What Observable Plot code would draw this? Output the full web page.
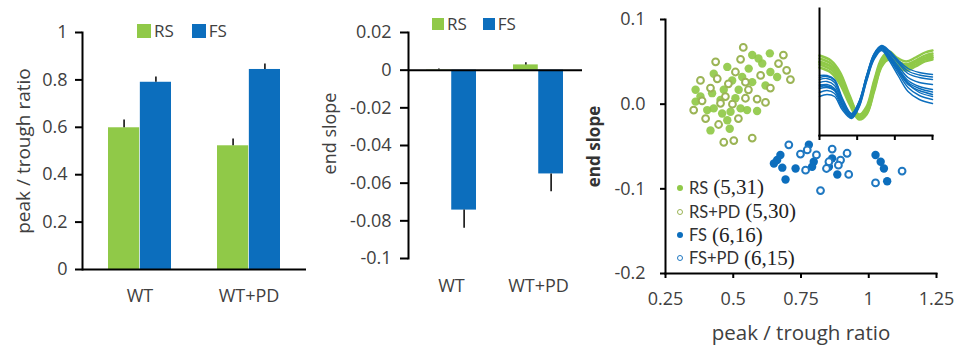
<!DOCTYPE html>
<html>
<head>
<meta charset="utf-8">
<script src="https://cdn.jsdelivr.net/npm/d3@7"></script>
<script src="https://cdn.jsdelivr.net/npm/@observablehq/plot@0.6"></script>
<style>
  body { margin: 0; background: #fff; }
  #chart { position: relative; width: 959px; height: 352px; overflow: hidden; font-family: "Open Sans", Lato, sans-serif; color: #404040; }
  #chart > svg { position: absolute; top: 0; }
  .legend { position: absolute; display: flex; align-items: center; font-size: 17px; line-height: 1; white-space: nowrap; }
  .sw { display: inline-block; margin-right: 3px; }
  .key { position: absolute; left: 677px; height: 22px; display: flex; align-items: center; white-space: nowrap; }
  .mk { display: inline-block; box-sizing: border-box; width: 6px; height: 6px; border-radius: 50%; margin-right: 6px; }
  .sans { font-family: Lato, sans-serif; font-size: 16.5px; color: #333; }
  .serif { font-family: "Liberation Serif", "DejaVu Serif", serif; font-size: 21px; color: #222; margin-left: 5px; }
</style>
</head>
<body>
<div id="chart"></div>
<script>
// Genotype groups and cell classes
const groups = ["WT", "WT+PD"];
const classes = ["RS", "FS"];

// Mean ± SEM of the peak / trough ratio
const meanRatioRS = [0.598, 0.522];
const semRatioRS = [0.033, 0.029];
const meanRatioFS = [0.79, 0.844];
const semRatioFS = [0.022, 0.023];

// Mean ± SEM of the end slope
const meanSlopeRS = [0.0002, 0.0028];
const semSlopeRS = [0.0004, 0.0012];
const meanSlopeFS = [-0.0743, -0.0551];
const semSlopeFS = [0.0096, 0.0094];

// Axis ticks
const ratioTicks = [0, 0.2, 0.4, 0.6, 0.8, 1];
const slopeTicks = [-0.1, -0.08, -0.06, -0.04, -0.02, 0, 0.02];
const scatterXTicks = [0.25, 0.5, 0.75, 1, 1.25];
const scatterYTicks = [-0.2, -0.1, 0, 0.1];
const waveTicks = [0, 1, 2, 3];

// Single cells: peak / trough ratio and end slope
const rsRatio = [0.570, 0.635, 0.607, 0.557, 0.637, 0.478, 0.428, 0.496, 0.533, 0.570, 0.361, 0.465, 0.520, 0.422, 0.662, 0.361, 0.404, 0.428, 0.459, 0.490, 0.551, 0.588, 0.478, 0.416, 0.487, 0.527, 0.593, 0.508, 0.453, 0.619, 0.379];
const rsSlope = [0.058, 0.060, 0.048, 0.042, 0.038, 0.044, 0.036, 0.028, 0.032, 0.026, 0.017, 0.017, 0.017, 0.013, 0.032, 0.003, -0.007, -0.005, -0.011, -0.009, -0.007, -0.008, -0.019, -0.031, -0.029, -0.005, 0.054, 0.007, 0.005, 0.022, 0.009];
const rsPdRatio = [0.537, 0.527, 0.697, 0.711, 0.441, 0.385, 0.354, 0.453, 0.545, 0.588, 0.465, 0.502, 0.570, 0.482, 0.508, 0.416, 0.471, 0.556, 0.601, 0.667, 0.398, 0.519, 0.435, 0.637, 0.497, 0.379, 0.545, 0.619, 0.446, 0.685];
const rsPdSlope = [0.067, 0.053, 0.040, 0.029, 0.030, 0.004, -0.007, 0.001, 0.007, 0.006, -0.045, -0.043, -0.040, 0.024, 0.038, 0.019, 0.009, 0.017, 0.034, 0.048, -0.017, -0.017, 0.050, 0.019, 0.000, 0.028, 0.026, 0.002, -0.024, 0.058];
const fsRatio = [0.779, 0.662, 0.650, 0.681, 0.730, 0.693, 0.797, 0.791, 0.865, 0.853, 0.884, 0.674, 1.025, 1.044, 1.056, 1.068];
const fsSlope = [-0.048, -0.066, -0.070, -0.075, -0.076, -0.089, -0.068, -0.074, -0.064, -0.074, -0.083, -0.060, -0.060, -0.068, -0.076, -0.091];
const fsPdRatio = [0.705, 0.773, 0.865, 0.896, 0.853, 0.767, 0.822, 0.926, 0.920, 1.123, 1.025, 0.748, 0.844, 0.807, 0.888];
const fsPdSlope = [-0.048, -0.054, -0.053, -0.066, -0.068, -0.078, -0.102, -0.083, -0.058, -0.079, -0.093, -0.059, -0.076, -0.060, -0.072];

// Legend entries of the scatter: class name and (animals, cells)
const keyNames = ["RS", "RS+PD", "FS", "FS+PD"];
const keyCounts = ["(5,31)", "(5,30)", "(6,16)", "(6,15)"];

// Spike waveforms (ms, normalized amplitude)
const rsTime = [0, 0.3, 0.55, 0.8, 1.05, 1.25, 1.45, 1.65, 1.85, 2.05, 2.3, 2.55, 2.8, 3.0];
const rsWaves = [
  [0.30, 0.20, -0.04, -0.50, -0.88, -0.72, -0.20, 0.24, 0.38, 0.26, 0.18, 0.26, 0.36, 0.40],
  [0.24, 0.14, -0.10, -0.56, -0.92, -0.76, -0.24, 0.20, 0.34, 0.20, 0.12, 0.20, 0.30, 0.34],
  [0.18, 0.08, -0.16, -0.60, -0.94, -0.80, -0.30, 0.16, 0.30, 0.16, 0.08, 0.16, 0.26, 0.30],
  [0.12, 0.02, -0.22, -0.64, -0.96, -0.84, -0.36, 0.12, 0.26, 0.12, 0.04, 0.12, 0.22, 0.26],
  [0.06, -0.04, -0.28, -0.68, -0.98, -0.88, -0.42, 0.08, 0.22, 0.08, 0.00, 0.08, 0.18, 0.22],
  [0.16, 0.08, -0.12, -0.54, -0.92, -0.86, -0.38, 0.10, 0.28, 0.18, 0.12, 0.18, 0.24, 0.26]
];
const fsTime = [0, 0.2, 0.4, 0.6, 0.85, 1.05, 1.25, 1.45, 1.65, 1.85, 2.1, 2.35, 2.65, 3.0];
const fsWaves = [
  [-0.10, -0.10, -0.18, -0.54, -0.86, -0.62, -0.10, 0.34, 0.50, 0.40, 0.20, 0.04, -0.04, -0.08],
  [-0.14, -0.12, -0.20, -0.57, -0.87, -0.63, -0.11, 0.33, 0.49, 0.38, 0.17, -0.01, -0.09, -0.13],
  [-0.18, -0.16, -0.24, -0.60, -0.88, -0.64, -0.12, 0.32, 0.48, 0.36, 0.14, -0.06, -0.14, -0.18],
  [-0.24, -0.22, -0.30, -0.64, -0.90, -0.66, -0.14, 0.30, 0.46, 0.32, 0.08, -0.14, -0.24, -0.28],
  [-0.30, -0.28, -0.36, -0.68, -0.92, -0.68, -0.16, 0.28, 0.46, 0.30, 0.04, -0.20, -0.32, -0.38],
  [-0.33, -0.31, -0.38, -0.69, -0.93, -0.69, -0.17, 0.27, 0.45, 0.28, 0.01, -0.24, -0.36, -0.43],
  [-0.36, -0.34, -0.40, -0.70, -0.94, -0.70, -0.18, 0.26, 0.44, 0.26, -0.02, -0.28, -0.40, -0.48],
  [-0.44, -0.40, -0.46, -0.74, -0.94, -0.72, -0.20, 0.24, 0.42, 0.24, -0.06, -0.34, -0.50, -0.58],
  [-0.52, -0.48, -0.52, -0.78, -0.96, -0.74, -0.22, 0.22, 0.40, 0.20, -0.12, -0.42, -0.58, -0.66],
  [-0.28, -0.32, -0.40, -0.66, -0.90, -0.66, -0.14, 0.30, 0.46, 0.28, 0.00, -0.26, -0.44, -0.52]
];

const GREEN = "#90c948";
const GREEN_RING = "#9bb455";
const BLUE = "#0c6ebd";
const BLUE_RING = "#1f78c1";
const FONT = "'Open Sans', Lato, sans-serif";
const chart = document.getElementById("chart");

function place(svg, left, top = 0) {
  svg.style.left = left + "px";
  svg.style.top = top + "px";
  chart.appendChild(svg);
}

// Grouped bar chart with one-sided error bars
function barPanel(o) {
  const rows = (means, sems, cls) => groups.map((g, i) => ({group: g, cls, value: means[i], err: sems[i]}));
  const rs = rows(o.rs, o.rsErr, "RS");
  const fs = rows(o.fs, o.fsErr, "FS");
  const frameW = o.width - o.ml - o.mr;
  const step = frameW / (groups.length - o.pi + 2 * o.po);
  const bw = step * (1 - o.pi);
  const tip = d => d.value + (d.value >= 0 ? d.err : -d.err);
  return Plot.plot({
    width: o.width, height: 352,
    marginLeft: o.ml, marginRight: o.mr, marginTop: o.mt, marginBottom: o.mb,
    style: {background: "transparent", overflow: "visible", fontFamily: FONT, color: "#404040"},
    x: {domain: groups, paddingInner: o.pi, paddingOuter: o.po, axis: null},
    y: {domain: o.yDomain, axis: null},
    marks: [
      Plot.barY(rs, {x: "group", y: "value", fill: GREEN, insetRight: bw / 2}),
      Plot.barY(fs, {x: "group", y: "value", fill: BLUE, insetLeft: bw / 2}),
      Plot.ruleX(rs, {x: "group", y1: "value", y2: tip, dx: -bw / 4, stroke: "black", strokeWidth: 1.5}),
      Plot.ruleX(fs, {x: "group", y1: "value", y2: tip, dx: bw / 4, stroke: "black", strokeWidth: 1.5}),
      Plot.ruleY([0], {stroke: "black", strokeWidth: 2}),
      Plot.frame({anchor: "left", stroke: "black", strokeWidth: 2}),
      Plot.axisY({ticks: o.ticks, tickFormat: o.fmt, tickSize: o.tickSize, tickPadding: o.tickPadding, stroke: "black", strokeWidth: 2, fontSize: 18, label: null}),
      Plot.axisX({tickSize: 0, tickPadding: o.xPad, fontSize: 18, label: null}),
      Plot.text([o.label], {frameAnchor: "left", rotate: -90, dx: o.labelDx, dy: o.labelDy, fontSize: o.labelSize, textAnchor: "middle", lineAnchor: "middle", fill: "#404040"})
    ]
  });
}

place(barPanel({
  width: 320, ml: 82, mr: 14, mt: 32, mb: 83, pi: 0.42, po: 0.23,
  rs: meanRatioRS, rsErr: semRatioRS, fs: meanRatioFS, fsErr: semRatioFS,
  yDomain: [0, 1], ticks: ratioTicks, fmt: d => String(d),
  tickSize: 7, tickPadding: 8, xPad: 20,
  label: "peak / trough ratio", labelSize: 19, labelDx: -59, labelDy: 0
}), 0);

place(barPanel({
  width: 290, ml: 98, mr: 18, mt: 32, mb: 94, pi: 0.42, po: 0.21,
  rs: meanSlopeRS, rsErr: semSlopeRS, fs: meanSlopeFS, fsErr: semSlopeFS,
  yDomain: [-0.1, 0.02], ticks: slopeTicks, fmt: d => String(d),
  tickSize: 8, tickPadding: 9, xPad: 21,
  label: "end slope", labelSize: 18, labelDx: -78, labelDy: -12
}), 310);

// Scatter of single cells
const cells = (xs, ys) => xs.map((x, i) => ({x, y: ys[i]}));
place(Plot.plot({
  width: 389, height: 352,
  marginLeft: 95, marginRight: 23, marginTop: 19, marginBottom: 79,
  style: {background: "transparent", overflow: "visible", fontFamily: FONT, color: "#404040"},
  x: {domain: [0.25, 1.25], axis: null},
  y: {domain: [-0.2, 0.1], axis: null},
  marks: [
    Plot.dot(cells(rsRatio, rsSlope), {x: "x", y: "y", r: 4.2, fill: GREEN, fillOpacity: 0.92}),
    Plot.dot(cells(rsPdRatio, rsPdSlope), {x: "x", y: "y", r: 3.4, fill: "white", stroke: GREEN_RING, strokeWidth: 2}),
    Plot.dot(cells(fsRatio, fsSlope), {x: "x", y: "y", r: 4.2, fill: BLUE}),
    Plot.dot(cells(fsPdRatio, fsPdSlope), {x: "x", y: "y", r: 3.4, fill: "white", stroke: BLUE_RING, strokeWidth: 2}),
    Plot.frame({anchor: "left", stroke: "black", strokeWidth: 2}),
    Plot.frame({anchor: "bottom", stroke: "black", strokeWidth: 2}),
    Plot.axisY({ticks: scatterYTicks, tickFormat: d => d.toFixed(1), tickSize: 5, tickPadding: 15, stroke: "black", strokeWidth: 2, fontSize: 18, label: null}),
    Plot.axisX({ticks: scatterXTicks, tickFormat: d => String(d), tickSize: 5, tickPadding: 14, stroke: "black", strokeWidth: 2, fontSize: 18, label: null}),
    Plot.text(["end slope"], {frameAnchor: "left", rotate: -90, dx: -71, dy: 0, fontSize: 17, fontWeight: "bold", textAnchor: "middle", lineAnchor: "middle", fill: "#333"}),
    Plot.text(["peak / trough ratio"], {frameAnchor: "bottom", dy: 60, fontSize: 20.5, textAnchor: "middle", lineAnchor: "middle", fill: "#404040"})
  ]
}), 570);

// Inset: overlaid spike waveforms
const waves = (time, set, cls) => set.flatMap((w, k) => w.map((v, i) => ({t: time[i], v, trace: cls + k})));
place(Plot.plot({
  width: 150, height: 150,
  marginLeft: 19, marginRight: 18, marginTop: 8, marginBottom: 15,
  style: {background: "transparent", overflow: "visible"},
  x: {domain: [0, 3], axis: null},
  y: {domain: [-1.3, 1.24], axis: null},
  marks: [
    Plot.line(waves(rsTime, rsWaves, "RS"), {x: "t", y: "v", z: "trace", stroke: GREEN, strokeWidth: 2.4, curve: "catmull-rom"}),
    Plot.line(waves(fsTime, fsWaves, "FS"), {x: "t", y: "v", z: "trace", stroke: BLUE, strokeWidth: 1.4, curve: "catmull-rom"}),
    Plot.frame({anchor: "left", stroke: "black", strokeWidth: 2}),
    Plot.frame({anchor: "bottom", stroke: "black", strokeWidth: 2}),
    Plot.axisX({ticks: waveTicks, tickFormat: () => "", tickSize: 5, stroke: "black", strokeWidth: 2, label: null})
  ]
}), 800);

// Bar legends
function barLegend(left, top, size, gap) {
  const div = document.createElement("div");
  div.className = "legend";
  div.style.left = left + "px";
  div.style.top = top + "px";
  classes.forEach((c, i) => {
    const sw = document.createElement("span");
    sw.className = "sw";
    sw.style.width = size + "px";
    sw.style.height = size + "px";
    sw.style.background = i === 0 ? GREEN : BLUE;
    if (i > 0) sw.style.marginLeft = gap + "px";
    const t = document.createElement("span");
    t.textContent = c;
    div.append(sw, t);
  });
  chart.appendChild(div);
}
barLegend(137, 22, 14, 18);
barLegend(432, 15, 12, 16);

// Scatter legend
const keyRows = [187.7, 211.7, 235, 258.3];
keyNames.forEach((name, i) => {
  const row = document.createElement("div");
  row.className = "key";
  row.style.top = (keyRows[i] - 11) + "px";
  const mk = document.createElement("span");
  mk.className = "mk";
  const col = name.startsWith("RS") ? (name.includes("PD") ? GREEN_RING : GREEN) : (name.includes("PD") ? BLUE_RING : BLUE);
  if (name.includes("PD")) { mk.style.border = "1.3px solid " + col; mk.style.background = "white"; }
  else mk.style.background = col;
  const a = document.createElement("span");
  a.className = "sans";
  a.textContent = name;
  const b = document.createElement("span");
  b.className = "serif";
  b.textContent = keyCounts[i];
  row.append(mk, a, b);
  chart.appendChild(row);
});
</script>
</body>
</html>
